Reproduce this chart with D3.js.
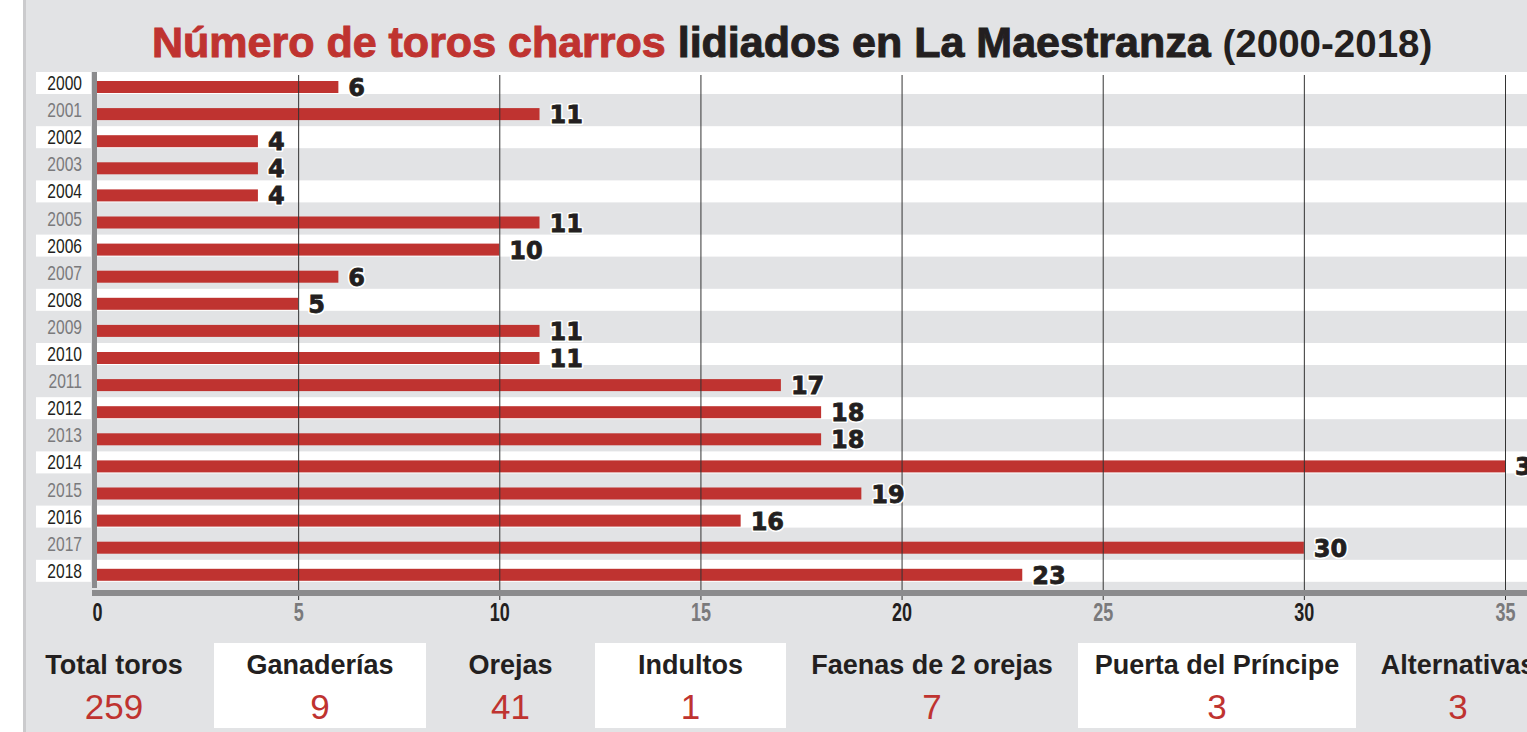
<!DOCTYPE html>
<html>
<head>
<meta charset="utf-8">
<script src="https://cdn.jsdelivr.net/npm/d3@7"></script>
<style>
  body { margin: 0; background: #fff; }
  svg { display: block; }
</style>
</head>
<body>
<div id="chart"></div>
<script>
const W = 1527, H = 732;

// data
const years = ["2000","2001","2002","2003","2004","2005","2006","2007","2008","2009",
               "2010","2011","2012","2013","2014","2015","2016","2017","2018"];
const toros = [6, 11, 4, 4, 4, 11, 10, 6, 5, 11, 11, 17, 18, 18, 35, 19, 16, 30, 23];
const xTicks = [0, 5, 10, 15, 20, 25, 30, 35];
const statLabels = ["Total toros", "Ganaderías", "Orejas", "Indultos", "Faenas de 2 orejas", "Puerta del Príncipe", "Alternativas"];
const statValues = [259, 9, 41, 1, 7, 3, 3];

const red = "#bf3330", dark = "#231f20", grey = "#7a7a7c", bg = "#e2e3e5", axisGrey = "#8b8b8d";
const sans = "'Liberation Sans', Arial, Helvetica, sans-serif";
const heavy = "'DejaVu Sans', sans-serif";
const squeeze = 0.8; // narrow look for year labels

const svg = d3.select("#chart").append("svg")
    .attr("width", W).attr("height", H);

// panel
svg.append("rect").attr("x", 0).attr("y", 0).attr("width", W).attr("height", H).attr("fill", "#fff");
svg.append("rect").attr("x", 23).attr("y", 0).attr("width", W - 23).attr("height", H).attr("fill", "#cbcbcd");
svg.append("rect").attr("x", 26).attr("y", 0).attr("width", W - 26).attr("height", H).attr("fill", bg);

// title
const title = svg.append("text")
    .attr("x", 152).attr("y", 57)
    .attr("font-family", sans).attr("font-weight", "bold");
title.append("tspan").text("Número de toros charros ")
    .attr("font-size", 43).attr("fill", red).attr("stroke", red).attr("stroke-width", 1);
title.append("tspan").text("lidiados en La Maestranza ")
    .attr("font-size", 43).attr("fill", dark).attr("stroke", dark).attr("stroke-width", 1);
title.append("tspan").text("(2000-2018)")
    .attr("font-size", 38.5).attr("fill", dark);

// scales
const x = d3.scaleLinear().domain([0, 35]).range([97, 1505]);
const y = d3.scaleBand().domain(years).range([72, 72 + 27.1 * years.length]);

// row bands
svg.selectAll(".band").data(years.filter((d, i) => i % 2 === 0)).enter()
  .append("rect").attr("class", "band")
    .attr("x", 97).attr("y", d => y(d))
    .attr("width", W - 97).attr("height", 22)
    .attr("fill", "#fff");

// year labels
svg.selectAll(".ylab-bg").data(years.filter((d, i) => i % 2 === 0)).enter()
  .append("rect").attr("class", "ylab-bg")
    .attr("x", 36).attr("y", d => y(d))
    .attr("width", 55).attr("height", 22)
    .attr("fill", "#fff");

svg.selectAll(".ylab").data(years).enter()
  .append("text").attr("class", "ylab")
    .attr("transform", d => `translate(82,${y(d) + 18}) scale(${squeeze},1)`)
    .attr("text-anchor", "end")
    .style("font-family", sans).style("font-size", "19.5px")
    .attr("fill", (d, i) => i % 2 === 0 ? dark : grey)
    .text(d => d);

// bars
svg.selectAll(".bar").data(toros).enter()
  .append("rect").attr("class", "bar")
    .attr("x", x(0)).attr("y", (d, i) => y(years[i]) + 9)
    .attr("width", d => x(d) - x(0)).attr("height", 12)
    .attr("fill", red);

// gridlines
const grid = svg.append("g")
    .attr("transform", "translate(0,600)")
    .call(d3.axisBottom(x).tickValues(xTicks.slice(1)).tickSize(-525).tickFormat(""));
grid.select(".domain").remove();
grid.selectAll("line").attr("stroke", "#333").attr("stroke-width", 1);

// axis bars
svg.append("rect").attr("x", 92).attr("y", 72).attr("width", 5).attr("height", 516).attr("fill", axisGrey);
svg.append("rect").attr("x", 92).attr("y", 590).attr("width", W - 92).attr("height", 6).attr("fill", axisGrey);

// tick labels
const ax = svg.append("g")
    .attr("transform", "translate(0,600)")
    .call(d3.axisBottom(x).tickValues(xTicks).tickSize(0).tickPadding(0));
ax.select(".domain").remove();
ax.attr("font-size", null).attr("font-family", null);
ax.selectAll(".tick text")
    .attr("y", 21).attr("dy", null)
    .attr("transform", "scale(0.72,1)")
    .style("font-family", sans).style("font-weight", "bold").style("font-size", "25px")
    .attr("fill", (d, i) => i % 2 === 0 ? dark : grey);

// value labels: white halo first, then heavy dark digits
const valX = d => x(d) + 10;
const valY = (d, i) => y(years[i]) + 24;
svg.selectAll(".val-halo").data(toros).enter()
  .append("text").attr("class", "val-halo")
    .attr("x", valX).attr("y", valY)
    .attr("font-family", heavy).attr("font-weight", "bold").attr("font-size", 24)
    .attr("fill", "#fff").attr("stroke", "#fff").attr("stroke-width", 4)
    .attr("stroke-linejoin", "round")
    .text(d => d);
svg.selectAll(".val").data(toros).enter()
  .append("text").attr("class", "val")
    .attr("x", valX).attr("y", valY)
    .attr("font-family", heavy).attr("font-weight", "bold").attr("font-size", 24)
    .attr("fill", dark).attr("stroke", dark).attr("stroke-width", 0.8)
    .text(d => d);

// stats row
const cellEdges = [14, 214, 426, 595, 786, 1078, 1356, 1560];
const cells = svg.selectAll(".stat").data(statLabels).enter()
  .append("g").attr("class", "stat");
cells.filter((d, i) => i % 2 === 1).append("rect")
    .attr("x", d => cellEdges[statLabels.indexOf(d)])
    .attr("y", 643)
    .attr("width", d => cellEdges[statLabels.indexOf(d) + 1] - cellEdges[statLabels.indexOf(d)])
    .attr("height", 85)
    .attr("fill", "#fff");
cells.append("text")
    .attr("x", (d, i) => (cellEdges[i] + cellEdges[i + 1]) / 2).attr("y", 674)
    .attr("text-anchor", "middle")
    .attr("font-family", sans).attr("font-weight", "bold").attr("font-size", 27)
    .attr("fill", dark)
    .text(d => d);
cells.append("text")
    .attr("x", (d, i) => (cellEdges[i] + cellEdges[i + 1]) / 2).attr("y", 719)
    .attr("text-anchor", "middle")
    .attr("font-family", sans).attr("font-size", 35)
    .attr("fill", red)
    .text((d, i) => statValues[i]);
</script>
</body>
</html>
